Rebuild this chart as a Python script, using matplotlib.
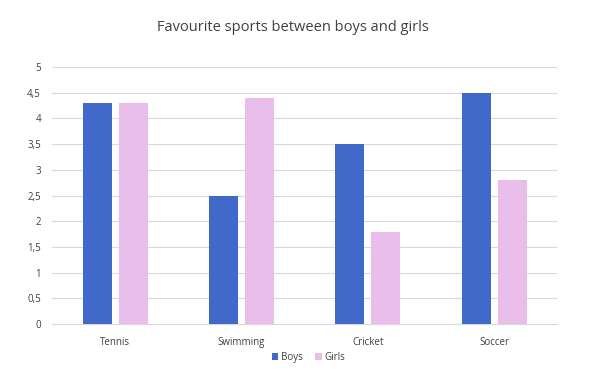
import numpy as np
import matplotlib
matplotlib.use('Agg')
from matplotlib import pyplot as plt

plt.rcParams['font.family'] = ['Open Sans', 'DejaVu Sans']

sports = ['Tennis', 'Swimming', 'Cricket', 'Soccer']
boys = [4.3, 2.5, 3.5, 4.5]
girls = [4.3, 4.4, 1.8, 2.8]
yticks = [0, 0.5, 1, 1.5, 2, 2.5, 3, 3.5, 4, 4.5, 5]
ylabels = ['0', '0,5', '1', '1,5', '2', '2,5', '3', '3,5', '4', '4,5', '5']

fig = plt.figure(figsize=(6.05, 3.83), dpi=100)
ax = fig.add_axes([0.086, 0.154, 0.835, 0.671])

x = np.arange(len(sports))
w = 0.23
gap = 0.055
ax.bar(x - (w + gap) / 2, boys, w, color='#4169C9', label='Boys', zorder=3)
ax.bar(x + (w + gap) / 2, girls, w, color='#E9BEEA', label='Girls', zorder=3)

ax.set_xlim(-0.5, 3.5)
ax.set_ylim(0, 5)
ax.set_xticks(x)
ax.set_xticklabels(sports, fontsize=7, color='#404040')
ax.set_yticks(yticks)
ax.set_yticklabels(ylabels, fontsize=7, color='#404040')
ax.tick_params(length=0, pad=8)
ax.tick_params(axis='x', pad=9)
ax.grid(axis='y', color='#D9D9D9', linewidth=0.8, zorder=0)
for s in ['top', 'right', 'left']:
    ax.spines[s].set_visible(False)
ax.spines['bottom'].set_color('#D9D9D9')

fig.text(0.485, 0.928, 'Favourite sports between boys and girls', ha='center', va='center',
         fontsize=10.5, color='#404040')
fig.legend(loc='center', bbox_to_anchor=(0.51, 0.066), ncol=2, frameon=False, fontsize=7,
           handlelength=0.7, handleheight=0.7, handletextpad=0.3, columnspacing=1.2,
           labelcolor='#404040')

plt.savefig('out.png', dpi=100)
